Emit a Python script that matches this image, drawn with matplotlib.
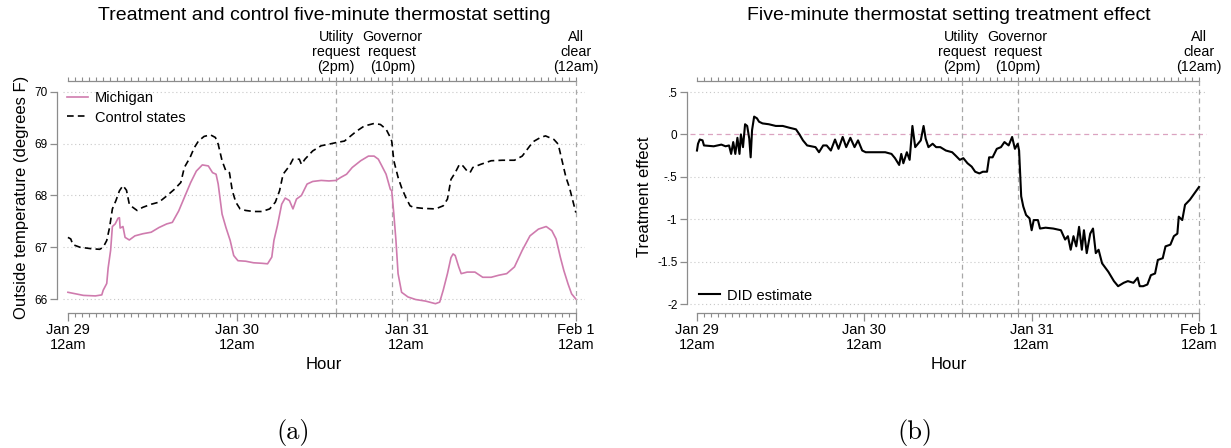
import numpy as np
import matplotlib
matplotlib.use('Agg')
import matplotlib.pyplot as plt
from matplotlib.ticker import FixedLocator, NullFormatter

plt.rcParams['font.family'] = ['Liberation Sans', 'DejaVu Sans']

# hours since Jan 29 12am
mi_hours = [0, 1.1, 2.2, 3.9, 4.8, 5.0, 5.5, 5.7, 6.05, 6.3, 6.7, 7.1, 7.3, 7.4, 7.8, 8.1, 8.7,
            9.5, 10.6, 11.8, 12.9, 14.0, 14.8, 15.7, 16.5, 17.4, 18.2, 19.05, 19.9, 20.5, 21.0,
            21.3, 21.85, 22.4, 23.0, 23.5, 24.1, 25.2, 26.3, 27.5, 28.3, 28.9, 29.2, 29.7, 30.3,
            30.8, 31.4, 31.9, 32.4, 33.1, 33.9, 34.7, 35.9, 37.0, 38.0, 38.7, 39.5, 40.3, 41.5,
            42.6, 43.4, 44.0, 44.5, 45.1, 45.7, 45.9, 46.2, 46.5, 46.8, 47.3, 48.2, 49.3, 50.7,
            52.1, 52.7, 53.2, 53.8, 54.3, 54.6, 54.9, 55.4, 55.75, 56.6, 57.7, 58.8, 60.0, 61.1,
            62.2, 63.3, 64.4, 65.5, 66.7, 67.8, 68.6, 69.2, 69.8, 70.3, 70.9, 71.4, 72.0]
mi_temp = [66.13, 66.10, 66.07, 66.06, 66.08, 66.17, 66.30, 66.60, 66.94, 67.40, 67.45, 67.56,
           67.57, 67.37, 67.40, 67.19, 67.14, 67.22, 67.26, 67.29, 67.38, 67.45, 67.48, 67.70,
           67.96, 68.25, 68.47, 68.59, 68.57, 68.44, 68.41, 68.22, 67.64, 67.38, 67.13, 66.84,
           66.74, 66.73, 66.70, 66.69, 66.68, 66.81, 67.13, 67.42, 67.83, 67.95, 67.90, 67.74,
           67.93, 68.00, 68.22, 68.27, 68.29, 68.28, 68.29, 68.35, 68.41, 68.54, 68.67, 68.76,
           68.76, 68.70, 68.57, 68.41, 68.12, 68.09, 67.64, 67.13, 66.49, 66.13, 66.04, 65.99,
           65.96, 65.91, 65.94, 66.17, 66.49, 66.80, 66.87, 66.84, 66.62, 66.49, 66.52, 66.52,
           66.42, 66.42, 66.46, 66.49, 66.62, 66.94, 67.22, 67.35, 67.40, 67.32, 67.16, 66.81,
           66.55, 66.29, 66.10, 66.00]

ctrl_hours = [0, 0.4, 0.7, 1.7, 3.4, 4.5, 5.0, 5.5, 5.9, 6.3, 6.8, 7.3, 7.8, 8.3, 8.7, 9.2, 9.8,
              10.6, 11.8, 12.9, 14.0, 15.1, 16.0, 16.5, 17.3, 17.9, 18.5, 19.3, 20.2, 20.9, 21.3,
              21.85, 22.4, 22.9, 23.3, 23.8, 24.4, 25.2, 26.3, 27.5, 28.6, 29.4, 30.0, 30.5, 31.4,
              31.9, 32.8, 33.1, 33.6, 34.7, 35.9, 37.0, 38.0, 39.2, 40.9, 42.0, 43.4, 44.3, 45.1,
              45.7, 45.9, 46.2, 46.8, 47.3, 47.9, 48.5, 49.0, 50.4, 52.1, 53.2, 53.8, 54.3, 54.9,
              55.5, 56.0, 56.6, 57.0, 57.4, 58.5, 60.0, 61.6, 63.3, 64.4, 65.5, 66.1, 67.0, 67.7,
              68.9, 69.5, 70.0, 70.6, 71.1, 71.7, 72.0]
ctrl_temp = [67.19, 67.16, 67.05, 67.00, 66.97, 66.96, 67.00, 67.13, 67.38, 67.74, 67.90, 68.09,
             68.19, 68.10, 67.83, 67.77, 67.71, 67.77, 67.83, 67.87, 67.99, 68.12, 68.25, 68.54,
             68.73, 68.92, 69.05, 69.14, 69.17, 69.12, 68.99, 68.67, 68.47, 68.44, 68.09, 67.87,
             67.74, 67.71, 67.69, 67.69, 67.74, 67.87, 68.09, 68.41, 68.57, 68.70, 68.70, 68.60,
             68.70, 68.86, 68.96, 68.99, 69.02, 69.05, 69.24, 69.34, 69.39, 69.37, 69.28, 69.12,
             69.05, 68.67, 68.35, 68.15, 67.96, 67.80, 67.77, 67.75, 67.74, 67.80, 67.93, 68.31,
             68.44, 68.60, 68.57, 68.47, 68.44, 68.54, 68.60, 68.67, 68.68, 68.68, 68.76, 68.96,
             69.05, 69.12, 69.15, 69.08, 68.99, 68.70, 68.35, 68.15, 67.83, 67.67]

did_hours = [0, 0.15, 0.4, 0.8, 1.0, 2.4, 3.5, 4.1, 4.6, 4.9, 5.2, 5.5, 5.8, 6.1, 6.3, 6.6, 6.9,
             7.2, 7.5, 7.7, 7.9, 8.2, 8.6, 8.9, 9.4, 10.3, 11.3, 12.3, 13.2, 14.2, 14.7, 15.2,
             15.8, 17.0, 17.5, 18.1, 18.6, 19.2, 19.8, 20.3, 20.9, 21.4, 22.0, 22.6, 23.1, 23.7,
             24.2, 25.4, 27.0, 27.9, 28.4, 29.0, 29.3, 29.6, 30.1, 30.5, 30.9, 31.3, 32.1, 32.5,
             32.8, 33.2, 33.8, 34.3, 34.9, 35.7, 36.6, 37.1, 37.7, 38.2, 38.8, 39.4, 39.9, 40.5,
             41.0, 41.6, 41.9, 42.4, 43.0, 43.6, 44.1, 44.7, 45.2, 45.6, 46.0, 46.2, 46.5, 46.8,
             47.2, 47.7, 48.0, 48.3, 48.9, 49.2, 50.0, 51.1, 52.2, 52.8, 53.2, 53.6, 54.0, 54.4,
             54.8, 55.2, 55.5, 55.9, 56.4, 56.8, 57.2, 57.6, 58.1, 59.0, 59.8, 60.4, 61.2, 61.8,
             62.6, 63.2, 63.5, 64.0, 64.6, 65.1, 65.7, 66.1, 66.8, 67.2, 67.9, 68.4, 68.9, 69.1,
             69.6, 70.0, 70.7, 71.3, 72.0]
did_effect = [-0.19, -0.11, -0.06, -0.07, -0.13, -0.14, -0.12, -0.14, -0.13, -0.23, -0.09,
              -0.23, -0.04, -0.23, 0.00, -0.15, 0.12, 0.10, -0.05, -0.27, 0.05, 0.21, 0.19, 0.15,
              0.13, 0.12, 0.10, 0.10, 0.08, 0.06, 0.00, -0.07, -0.13, -0.15, -0.21, -0.13, -0.13,
              -0.19, -0.06, -0.17, -0.03, -0.15, -0.04, -0.15, -0.07, -0.19, -0.21, -0.21, -0.21,
              -0.23, -0.28, -0.36, -0.23, -0.34, -0.21, -0.30, 0.10, -0.15, -0.07, 0.10, -0.05,
              -0.15, -0.11, -0.15, -0.15, -0.19, -0.21, -0.25, -0.30, -0.28, -0.34, -0.38, -0.44,
              -0.46, -0.44, -0.44, -0.27, -0.27, -0.17, -0.15, -0.09, -0.13, -0.03, -0.17, -0.11,
              -0.19, -0.73, -0.85, -0.95, -0.99, -1.13, -1.01, -1.01, -1.11, -1.10, -1.11, -1.13,
              -1.24, -1.20, -1.36, -1.20, -1.32, -1.09, -1.36, -1.13, -1.40, -1.17, -1.11, -1.40,
              -1.36, -1.52, -1.62, -1.73, -1.79, -1.75, -1.73, -1.75, -1.69, -1.79, -1.79, -1.77,
              -1.66, -1.64, -1.48, -1.46, -1.32, -1.30, -1.20, -1.17, -0.97, -1.01, -0.83, -0.77,
              -0.70, -0.62]

day_ticks = [0, 24, 48, 72]
day_labels = ['Jan 29\n12am', 'Jan 30\n12am', 'Jan 31\n12am', 'Feb 1\n12am']
event_hours = [38, 46, 72]
event_labels = ['Utility\nrequest\n(2pm)', 'Governor\nrequest\n(10pm)', 'All\nclear\n(12am)']
left_yticks = [66, 67, 68, 69, 70]
left_ylabels = ['66', '67', '68', '69', '70']
right_yticks = [0.5, 0, -0.5, -1, -1.5, -2]
right_ylabels = ['.5', '0', '-.5', '-1', '-1.5', '-2']

AXC = '#8c8c8c'
PINK = '#cf7bae'


def setup(ax, xlim, ylim, yticks, ylabels, title, ylabel, offset):
    ax.set_xlim(*xlim)
    ax.set_ylim(*ylim)
    ax.spines['top'].set_visible(False)
    ax.spines['right'].set_visible(False)
    ax.spines['left'].set_position(('outward', offset))
    ax.spines['left'].set_bounds(min(yticks), max(yticks))
    ax.spines['bottom'].set_bounds(0, 72)
    for s in ['left', 'bottom']:
        ax.spines[s].set_color(AXC)
        ax.spines[s].set_linewidth(0.9)

    ax.set_xticks(day_ticks, day_labels, fontsize=10.5)
    ax.xaxis.set_minor_locator(FixedLocator(np.arange(0, 73, 1)))
    ax.tick_params(axis='x', which='major', length=6, width=0.9, color=AXC, pad=1)
    ax.tick_params(axis='x', which='minor', length=3, width=0.8, color=AXC)
    for lbl in ax.get_xticklabels():
        lbl.set_linespacing(1.1)
    ax.set_yticks(yticks, ylabels, fontsize=8.5)
    ax.tick_params(axis='y', length=5, width=0.9, color=AXC, pad=2)

    # hourly ticks along the top
    sec = ax.secondary_xaxis('top')
    sec.xaxis.set_major_locator(FixedLocator(np.arange(0, 73, 1)))
    sec.xaxis.set_major_formatter(NullFormatter())
    sec.tick_params(length=3, width=0.8, color=AXC)
    sec.spines['top'].set_bounds(0, 72)
    sec.spines['top'].set_color(AXC)
    sec.spines['top'].set_linewidth(0.9)

    for h, lab in zip(event_hours, event_labels):
        ax.axvline(h, color='#a8a8a8', lw=0.9, ls=(0, (4, 3)), zorder=1)
        ax.annotate(lab, xy=(h, 1), xycoords=('data', 'axes fraction'),
                    xytext=(0, 7), textcoords='offset pixels', ha='center', va='bottom',
                    fontsize=10.3, linespacing=1.1)

    pos = ax.get_position()
    fig.text((pos.x0 + pos.x1) / 2, 1 - 15 / 448, title, fontsize=14, ha='center', va='center')
    ax.set_ylabel(ylabel, fontsize=12)
    ax.set_xlabel('Hour', fontsize=12)
    ax.xaxis.set_label_coords(0.5, -0.224)
    ax.xaxis.label.set_va('center')


fig = plt.figure(figsize=(12.31, 4.48), dpi=100)
ax1 = fig.add_axes([63 / 1231, 1 - 313 / 448, 522 / 1231, 232 / 448])
ax2 = fig.add_axes([690 / 1231, 1 - 313 / 448, 517 / 1231, 232 / 448])

setup(ax1, (-0.7, 73.3), (65.73, 70.21), left_yticks, left_ylabels,
      'Treatment and control five-minute thermostat setting',
      'Outside temperature (degrees F)', 4)
setup(ax2, (-1.0, 73.15), (-2.106, 0.63), right_yticks, right_ylabels,
      'Five-minute thermostat setting treatment effect', 'Treatment effect', 2)

for y in left_yticks:
    ax1.axhline(y, color='#c8c8c8', lw=0.8, ls=(0, (1, 2.5)), zorder=0)
for y in right_yticks:
    if y == 0:
        ax2.axhline(y, color='#dba3c0', lw=0.9, ls=(0, (4, 3)), zorder=0)
    else:
        ax2.axhline(y, color='#c8c8c8', lw=0.8, ls=(0, (1, 2.5)), zorder=0)

ax1.plot(mi_hours, mi_temp, color=PINK, lw=1.2, label='Michigan', zorder=3)
ax1.plot(ctrl_hours, ctrl_temp, color='black', lw=1.2, ls=(0, (4, 2.5)),
         label='Control states', zorder=3)
ax1.legend(loc='upper left', bbox_to_anchor=(0.008, 0.955), frameon=False, fontsize=10.5,
           handlelength=1.4, handletextpad=0.5, labelspacing=0.35, borderpad=0,
           borderaxespad=0)

ax2.plot(did_hours, did_effect, color='black', lw=1.5, label='DID estimate', zorder=3)
ax2.legend(loc='lower left', bbox_to_anchor=(0.018, 0.045), frameon=False, fontsize=10.5,
           handlelength=1.4, handletextpad=0.5, borderpad=0, borderaxespad=0)

fig.text(293 / 1231, 1 - 432 / 448, '(a)', family=['cmr10', 'DejaVu Serif'], fontsize=19,
         ha='center', va='center')
fig.text(915 / 1231, 1 - 432 / 448, '(b)', family=['cmr10', 'DejaVu Serif'], fontsize=19,
         ha='center', va='center')

fig.savefig('out.png', dpi=100)
